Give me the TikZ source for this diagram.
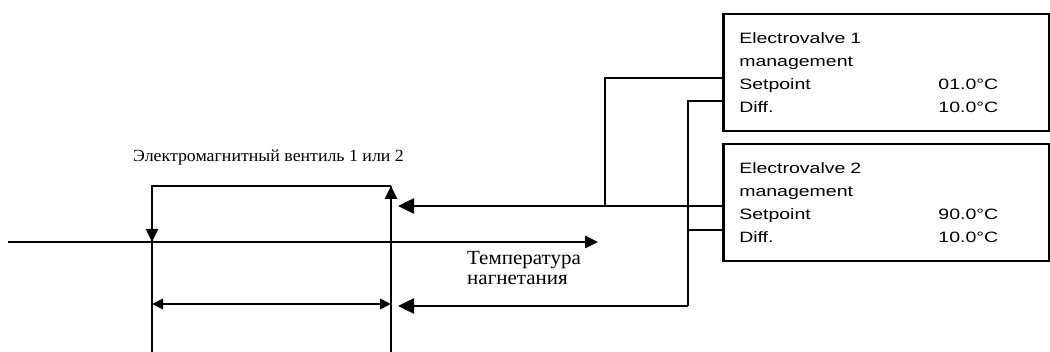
\documentclass[tikz,border=0pt]{standalone}
\usepackage{fontspec}
\setmainfont{Liberation Serif}
\newfontfamily\panelfont[FakeStretch=1.3]{Liberation Sans}
\newfontfamily\rufont[FakeStretch=1.05]{Liberation Serif}
\usetikzlibrary{positioning, arrows.meta}

\begin{document}
\begin{tikzpicture}[x=1pt, y=-1pt,
      panel/.style={draw, line width=2.5pt, anchor=north west, align=left,
        minimum width=326pt, minimum height=117pt, inner xsep=16pt,
        text width=294pt, font=\panelfont\fontsize{15}{23}\selectfont},
      wire/.style={line width=2.5pt},
      arr/.style={wire, -{Triangle[length=13pt, width=12pt]}},
      bigarr/.style={wire, -{Triangle[length=16pt, width=15pt]}},
      dbl/.style={wire, {Triangle[length=11pt, width=10pt]}-{Triangle[length=11pt, width=10pt]}},
      lbl/.style={font=\rufont\fontsize{17}{20}\selectfont, align=left, inner sep=0pt},
      temp/.style={font=\rufont\fontsize{20}{20.5}\selectfont, align=left, inner sep=0pt}
    ]
    \useasboundingbox (0,0) rectangle (1050,352);

    \node[panel] (ev1) at (722,13) {Electrovalve 1 \\ management \\
      \makebox[259pt]{Setpoint\hfill 01.0°C} \\ \makebox[259pt]{Diff.\hfill 10.0°C}};
    \node[panel] (ev2) at (722,143) {Electrovalve 2 \\ management \\
      \makebox[259pt]{Setpoint\hfill 90.0°C} \\ \makebox[259pt]{Diff.\hfill 10.0°C}};

    \node[lbl, anchor=west] (valvelbl) at (133,157) {Электромагнитный вентиль 1 или 2};
    \node[temp, anchor=north west] (templbl) at (467,251) {Температура \\ нагнетания};

    \coordinate (vtl) at (152,186);
    \coordinate (vtr) at (391,186);
    \coordinate (vbl) at (152,352);
    \coordinate (vbr) at (391,352);
    \coordinate (pipe) at (152,242);
    \coordinate (tin) at (8,242);
    \coordinate (tout) at (598,242);
    \coordinate (sp1) at (605,78);
    \coordinate (df1) at (688,101);
    \coordinate (sp2) at (605,206);
    \coordinate (df2) at (688,230);
    \coordinate (open) at (398,206);
    \coordinate (close) at (398,306);
    \coordinate (dl) at (152,304);
    \coordinate (dr) at (391,304);

    \draw[wire] (vbr) -- (vtr);
    \draw[arr] (vbr) -- (vtr);
    \draw[wire] (vtr) -- (vtl) -- (vbl);
    \draw[arr] (vtl) -- (pipe);
    \draw[arr] (tin) -- (tout);
    \draw[dbl] (dl) -- (dr);

    \draw[wire] (ev1.west |- sp1) -- (sp1) -- (sp2);
    \draw[bigarr] (ev2.west |- sp2) -- (open);
    \draw[wire] (ev1.west |- df1) -- (df1) -- (df1 |- close);
    \draw[wire] (ev2.west |- df2) -- (df2);
    \draw[bigarr] (df1 |- close) -- (close);
  \end{tikzpicture}
\end{document}
